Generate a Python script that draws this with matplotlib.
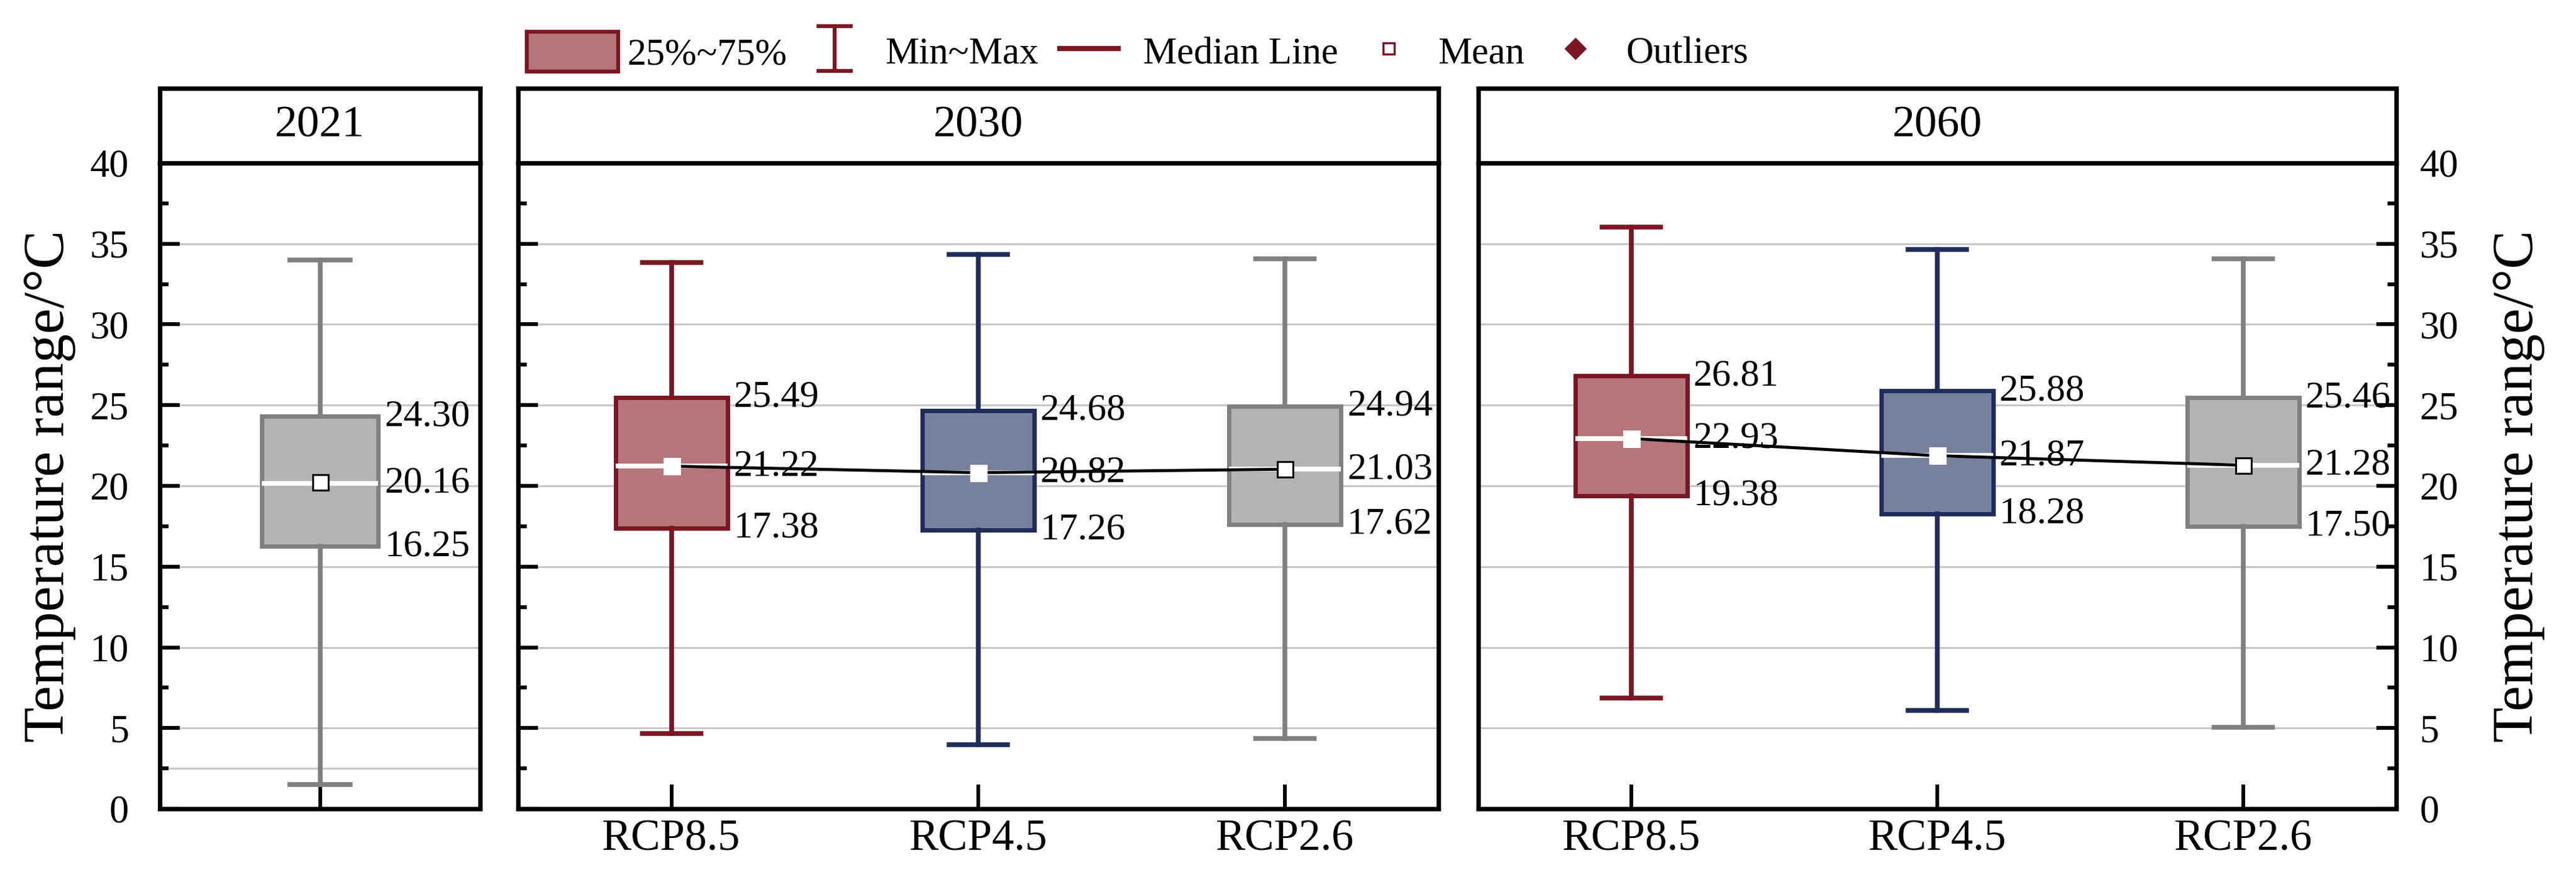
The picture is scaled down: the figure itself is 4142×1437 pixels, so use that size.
import matplotlib
matplotlib.use('Agg')
import matplotlib.pyplot as plt
from matplotlib.lines import Line2D
from matplotlib.patches import Patch
from matplotlib.path import Path
from matplotlib.ticker import MultipleLocator

plt.rcParams['font.family'] = ['Liberation Serif', 'DejaVu Serif']

# ---------------- data ----------------
periods = ['2021', '2030', '2060']
scenarios = ['RCP8.5', 'RCP4.5', 'RCP2.6']

base_min = [1.5]
base_q1 = [16.25]
base_med = [20.16]
base_mean = [20.22]
base_q3 = [24.30]
base_max = [34.0]

s2030_min = [4.65, 3.95, 4.35]
s2030_q1 = [17.38, 17.26, 17.62]
s2030_med = [21.22, 20.82, 21.03]
s2030_mean = [21.22, 20.82, 21.03]
s2030_q3 = [25.49, 24.68, 24.94]
s2030_max = [33.85, 34.35, 34.05]

s2060_min = [6.85, 6.10, 5.05]
s2060_q1 = [19.38, 18.28, 17.50]
s2060_med = [22.93, 21.87, 21.28]
s2060_mean = [22.93, 21.87, 21.28]
s2060_q3 = [26.81, 25.88, 25.46]
s2060_max = [36.05, 34.65, 34.05]

yticks = [0, 5, 10, 15, 20, 25, 30, 35, 40]
legend_labels = ['25%~75%', 'Min~Max', 'Median Line', 'Mean', 'Outliers']

# ---------------- style ----------------
RED_E, RED_F = '#7b1723', '#b4767b'
NAV_E, NAV_F = '#1f2c5c', '#77819b'
GRY_E, GRY_F = '#808080', '#b3b3b3'
scen_colors = [(RED_E, RED_F), (NAV_E, NAV_F), (GRY_E, GRY_F)]

W, H = 4142, 1437
fig = plt.figure(figsize=(W / 100, H / 100), dpi=100)

plot_top, plot_bot = 262, 1300
head_top = 142
panels_x = [(257, 772), (833, 2313), (2377, 3853)]

SPINE_W = 5.2
TICK_FS = 45
VAL_FS = 44
XT_FS = 51
HEAD_FS = 52
YLAB_FS = 67


def px_axes(x0, x1, y0, y1):
    return fig.add_axes([x0 / W, 1 - y1 / H, (x1 - x0) / W, (y1 - y0) / H])


def draw_box(ax, pos, lo, q1, med, mean, q3, hi, ec, fc):
    stats = [dict(whislo=lo, q1=q1, med=med, q3=q3, whishi=hi, mean=mean, fliers=[])]
    mean_edge = 'black' if ec == GRY_E else 'white'
    ax.bxp(stats, positions=[pos], widths=0.365, capwidths=0.19,
           patch_artist=True, showmeans=True, showfliers=False, manage_ticks=False,
           boxprops=dict(facecolor=fc, edgecolor=ec, linewidth=5),
           whiskerprops=dict(color=ec, linewidth=5.5),
           capprops=dict(color=ec, linewidth=5.5),
           medianprops=dict(color='white', linewidth=5.5, zorder=4),
           meanprops=dict(marker='s', markersize=18, markerfacecolor='white',
                          markeredgecolor=mean_edge, markeredgewidth=2.2, zorder=6))
    for v in (q3, med, q1):
        ax.annotate(f'{v:.2f}', xy=(pos + 0.365 / 2, v), xytext=(7, 0),
                    textcoords='offset points', ha='left', va='center',
                    fontsize=VAL_FS, zorder=7)


def style_axes(ax, side):
    ax.set_ylim(0, 40)
    ax.set_yticks(yticks)
    ax.yaxis.set_minor_locator(MultipleLocator(2.5))
    for s in ax.spines.values():
        s.set_linewidth(SPINE_W)
    ax.yaxis.grid(True, which='major', color='#c8c8c8', linewidth=2.2)
    ax.set_axisbelow(True)
    ax.tick_params(axis='x', which='both', direction='in', length=28, width=4.3,
                   labelsize=XT_FS, pad=12, top=False)
    ax.tick_params(axis='y', which='major', direction='in', length=23, width=4.5)
    ax.tick_params(axis='y', which='minor', direction='in', length=10, width=4.5)
    if side == 'left_labels':
        ax.tick_params(axis='y', which='both', left=True, right=False,
                       labelleft=True, labelsize=TICK_FS, pad=36)
    elif side == 'left_nolabels':
        ax.tick_params(axis='y', which='both', left=True, right=False, labelleft=False)
    else:
        ax.tick_params(axis='y', which='both', left=False, right=True,
                       labelleft=False, labelright=True, labelsize=TICK_FS, pad=27)


def header(x0, x1, text):
    hax = px_axes(x0, x1, head_top, plot_top)
    hax.set_xticks([])
    hax.set_yticks([])
    for s in hax.spines.values():
        s.set_linewidth(SPINE_W)
    hax.text(0.5, 0.5, text, ha='center', va='center', fontsize=HEAD_FS,
             transform=hax.transAxes)


# ---------------- panel 2021 ----------------
ax1 = px_axes(panels_x[0][0], panels_x[0][1], plot_top, plot_bot)
style_axes(ax1, 'left_labels')
ax1.set_xlim(0.5, 1.5)
ax1.axhline(2.5, color='#c8c8c8', linewidth=2.2, zorder=0.5)
draw_box(ax1, 1, base_min[0], base_q1[0], base_med[0], base_mean[0], base_q3[0], base_max[0], GRY_E, GRY_F)
ax1.set_xticks([1])
ax1.set_xticklabels([''])
header(*panels_x[0], periods[0])

# ---------------- panels 2030 / 2060 ----------------
groups = [
    (s2030_min, s2030_q1, s2030_med, s2030_mean, s2030_q3, s2030_max),
    (s2060_min, s2060_q1, s2060_med, s2060_mean, s2060_q3, s2060_max),
]
sides = ['left_nolabels', 'right_labels']
for gi, (mn, q1, md, me, q3, mx) in enumerate(groups):
    x0, x1 = panels_x[gi + 1]
    ax = px_axes(x0, x1, plot_top, plot_bot)
    style_axes(ax, sides[gi])
    ax.set_xlim(0.5, 3.5)
    positions = list(range(1, len(scenarios) + 1))
    for i, p in enumerate(positions):
        ec, fc = scen_colors[i]
        draw_box(ax, p, mn[i], q1[i], md[i], me[i], q3[i], mx[i], ec, fc)
    ax.plot(positions, me, color='black', linewidth=3.5, zorder=5)
    ax.set_xticks(positions)
    ax.set_xticklabels(scenarios)
    header(x0, x1, periods[gi + 1])

# ---------------- y labels ----------------
yc = 1 - (plot_top + plot_bot) / 2 / H
fig.text(80 / W, yc, 'Temperature range/°C', rotation=90, ha='center', va='center',
         fontsize=YLAB_FS)
fig.text(4050 / W, yc, 'Temperature range/°C', rotation=90, ha='center', va='center',
         fontsize=YLAB_FS)

# ---------------- legend ----------------
LEG_FS = 44
leg_y = 1 - 84 / H
ibar = Path([(-0.79, 1), (0.79, 1), (0, 1), (0, -1), (-0.79, -1), (0.79, -1)],
            [Path.MOVETO, Path.LINETO, Path.MOVETO, Path.LINETO, Path.MOVETO, Path.LINETO])
handles = [
    Patch(facecolor=RED_F, edgecolor=RED_E, linewidth=4.5),
    Line2D([], [], linestyle='none', marker=ibar, markersize=52, markeredgecolor=RED_E,
           markerfacecolor='none', markeredgewidth=4.5),
    Line2D([], [], color=RED_E, linewidth=6),
    Line2D([], [], linestyle='none', marker='s', markersize=13, markerfacecolor='white',
           markeredgecolor=RED_E, markeredgewidth=2.5),
    Line2D([], [], linestyle='none', marker='D', markersize=17, markerfacecolor=RED_E,
           markeredgecolor=RED_E),
]
leg_specs = [  # (left px, handlelength, handleheight, handletextpad)
    (847, 2.41, 1.23, 0.23),
    (1311, 1.0, 1.0, 0.83),
    (1704, 1.54, 1.0, 0.66),
    (2202, 1.0, 1.0, 0.81),
    (2502, 1.0, 1.0, 0.84),
]
for h, lab, (xl, hl, hh, tp) in zip(handles, legend_labels, leg_specs):
    fig.legend([h], [lab], loc='center left', bbox_to_anchor=(xl / W, leg_y),
               frameon=False, fontsize=LEG_FS, handlelength=hl, handleheight=hh,
               handletextpad=tp, borderpad=0, borderaxespad=0)

fig.savefig('out.png', dpi=100)
